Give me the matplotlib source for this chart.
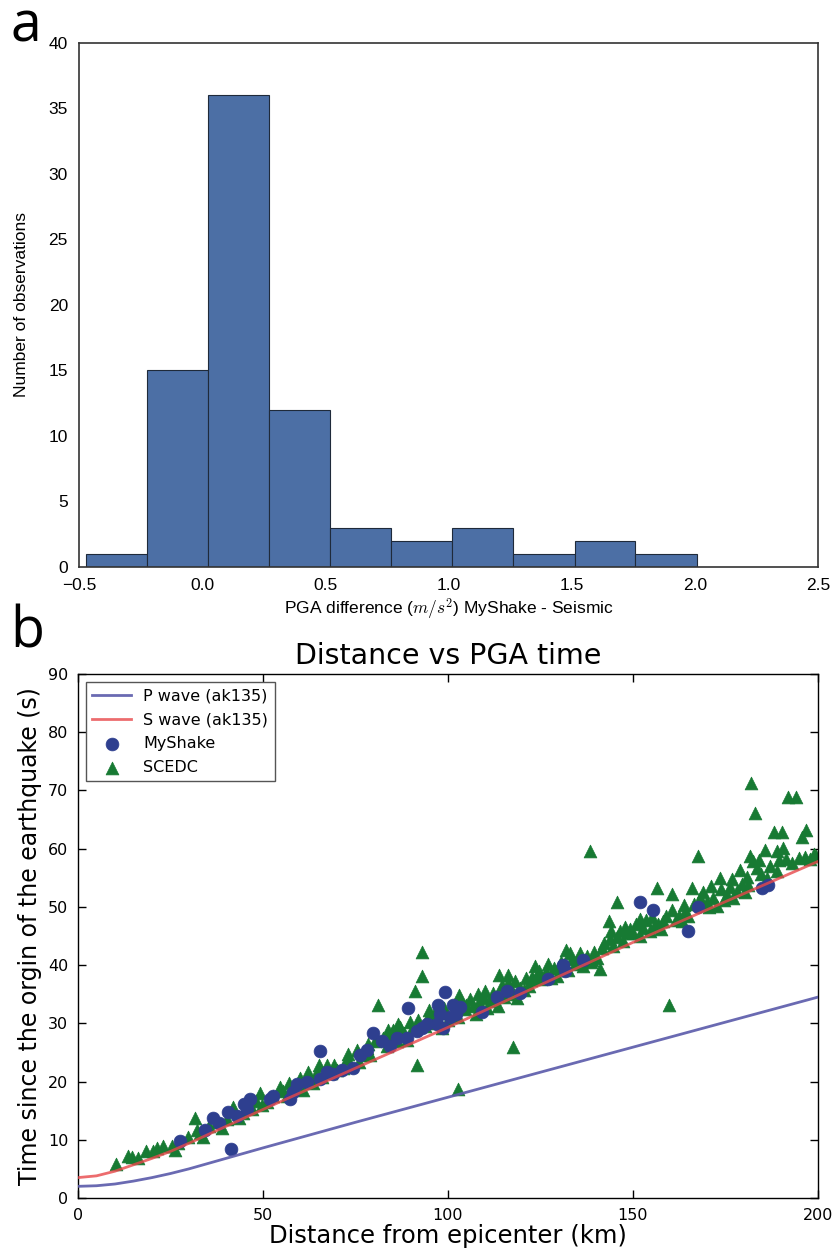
import numpy as np
import matplotlib
matplotlib.use("Agg")
import matplotlib.pyplot as plt

plt.rcParams['mathtext.fontset'] = 'cm'

# --- panel a : histogram of PGA difference
bin_edges = [-0.473, -0.224, 0.025, 0.272, 0.521, 0.767, 1.016, 1.263, 1.512, 1.759, 2.008]
counts = [1, 15, 36, 12, 3, 2, 3, 1, 2, 1]

# --- panel b : travel time curves (ak135)
curve_dist = [0, 5, 10, 15, 20, 25, 30, 40, 50, 75, 100, 125, 150, 175, 200]
p_time = [2.0, 2.1, 2.4, 2.9, 3.5, 4.2, 5.0, 6.8, 8.6, 13.0, 17.3, 21.6, 25.9, 30.2, 34.5]
s_time = [3.5, 3.8, 4.6, 5.7, 6.8, 8.0, 9.4, 12.3, 15.2, 22.3, 29.3, 36.6, 43.9, 50.9, 57.8]

# MyShake PGA times
myshake_dist = [27.6, 41.4, 34.3, 36.6, 38.0, 40.6, 42.9, 45.6, 46.5, 45.0, 51.9, 52.8,
                57.3, 58.2, 59.1, 61.8, 65.4, 65.4, 67.2, 69.0, 71.3, 74.4, 76.2, 78.0,
                79.8, 82.1, 84.3, 86.1, 89.3, 88.8, 91.5, 92.9, 94.2, 97.0, 97.4, 97.8,
                99.2, 98.7, 101.4, 102.3, 103.2, 109.1, 113.2, 115.9, 119.4, 127.1,
                131.2, 131.6, 136.6, 151.9, 155.5, 165.0, 167.7, 184.8, 186.6, 100.5]
myshake_time = [9.7, 8.4, 11.7, 13.7, 12.8, 14.7, 14.1, 15.3, 17.0, 16.2, 17.0, 17.6,
                17.0, 18.2, 19.6, 19.9, 25.3, 20.4, 21.6, 21.3, 22.0, 22.3, 24.6, 25.5,
                28.4, 27.0, 26.1, 27.5, 32.7, 27.5, 28.7, 29.2, 29.8, 29.8, 33.2, 31.6,
                35.4, 29.2, 33.2, 31.6, 32.8, 32.0, 34.6, 35.6, 35.2, 37.6,
                40.1, 38.9, 40.8, 50.9, 49.5, 45.8, 50.0, 53.2, 53.8, 31.0]

# SCEDC PGA times
scedc_dist = [10.4, 13.6, 14.5, 16.3, 18.4, 20.4, 21.3, 23.1, 25.3, 26.2, 27.0, 29.8,
              31.6, 32.1, 33.0, 33.9, 35.5, 37.5, 38.8, 40.2, 42.0, 43.4, 44.5, 45.8,
              47.0, 49.2, 49.6, 48.2,
              51.0, 52.6, 54.6, 55.5, 56.4, 58.0, 60.0, 60.9, 62.3, 63.5, 64.5, 66.0,
              67.2, 68.5, 70.0, 71.5, 72.6, 73.8, 75.3, 76.0,
              77.2, 78.3, 79.0, 80.3, 81.2, 82.5, 83.4, 84.6, 85.2, 86.2, 87.0, 88.0,
              88.8, 89.7, 90.4, 91.1, 91.5, 92.0, 92.9, 92.9, 93.8, 94.5, 95.5, 96.3,
              97.5, 98.5, 99.5, 100.0,
              101.5, 102.6, 102.8, 103.5, 104.5, 105.9, 106.8, 107.5, 108.5, 109.8,
              110.5, 111.5, 112.3, 113.5, 113.9, 114.6, 115.2, 116.2, 116.3, 117.5,
              117.7, 118.6, 119.5, 120.6, 121.8, 122.5, 122.6, 123.5, 124.0, 125.2,
              126.5, 127.8, 128.6, 129.5, 130.5, 131.9, 132.5, 133.4, 134.2, 135.7,
              136.5, 137.5, 138.4, 138.6, 139.5, 140.3, 141.1, 141.5, 142.3, 143.4,
              143.8, 144.6, 145.6, 145.6, 146.5, 147.3, 148.3, 149.2, 150.1,
              150.8, 151.8, 152.6, 153.5, 154.5, 155.2, 156.4, 156.8, 157.5, 158.2,
              159.8, 160.5, 160.6, 161.5, 162.4, 163.2, 164.0, 165.0, 165.9, 166.6,
              167.7, 168.1, 169.0, 170.0, 170.6, 171.5, 172.6, 173.5, 173.8, 174.5,
              175.5, 176.2, 177.0, 178.0, 178.9, 179.5, 180.3, 181.0, 181.6, 181.8,
              182.5, 183.0, 183.6, 184.5, 185.6, 186.2, 187.0, 188.1, 188.8, 189.5,
              190.2, 190.5, 191.4, 192.0, 193.0, 194.0, 194.8, 195.6, 196.5, 196.9,
              197.8, 198.8, 199.5,
              57.0, 61.5, 65.2, 69.3, 73.0, 78.0, 83.8, 86.5, 95.0, 96.8, 99.0,
              103.0, 105.0, 108.0, 110.0, 112.0, 115.8, 118.2, 121.0, 124.6, 127.0,
              130.0, 133.0, 136.0, 139.0, 144.0, 147.8, 152.0, 155.8, 159.0, 163.8,
              168.8, 171.0, 176.8, 180.8, 184.0, 189.0]
scedc_time = [5.8, 7.2, 7.1, 6.9, 8.1, 8.1, 8.5, 8.9, 8.9, 8.3, 9.5, 10.5,
              13.7, 11.6, 11.2, 10.4, 12.4, 13.1, 12.0, 13.6, 15.7, 13.7, 14.6, 16.0,
              15.2, 18.0, 15.9, 16.6,
              16.4, 17.5, 19.0, 18.3, 17.6, 18.8, 20.6, 18.5, 21.7, 19.8, 21.7, 20.7,
              22.9, 21.5, 21.9, 22.4, 23.8, 22.6, 25.5, 23.3,
              24.5, 26.4, 24.6, 27.0, 33.1, 27.4, 26.1, 28.2, 28.8, 27.0, 29.4, 28.3,
              27.2, 30.3, 29.0, 35.5, 22.9, 30.5, 38.2, 42.2, 29.5, 31.0, 30.0, 31.6,
              30.4, 29.2, 31.8, 30.5,
              32.0, 31.0, 18.8, 33.8, 32.5, 34.1, 33.0, 31.6, 33.6, 34.3,
              32.6, 33.8, 35.2, 33.0, 38.3, 36.5, 34.6, 38.3, 37.0, 35.0,
              26.0, 34.3, 36.0, 35.7, 36.4, 37.5, 37.9, 39.9, 38.2, 37.6,
              38.8, 37.8, 39.5, 38.2, 40.6, 42.6, 39.2, 41.0, 40.2, 42.0,
              39.8, 41.5, 59.6, 40.6, 42.3, 41.2, 39.4, 42.9, 43.8, 47.6,
              44.4, 43.2, 50.9, 44.9, 45.8, 44.2, 45.5, 46.2, 45.5,
              47.0, 45.0, 46.4, 47.8, 45.8, 48.2, 53.2, 47.0, 46.2, 47.6,
              33.2, 52.2, 49.5, 47.8, 48.5, 47.6, 49.2, 48.4, 53.2, 50.5,
              58.8, 51.5, 50.3, 50.8, 50.0, 51.6, 50.2, 54.9, 53.0, 51.2,
              52.0, 53.4, 51.6, 52.8, 56.3, 54.0, 52.6, 53.8, 58.7, 71.2,
              57.8, 66.2, 56.7, 55.6, 59.8, 55.0, 57.0, 62.9, 56.2, 58.0,
              62.8, 60.1, 58.3, 68.9, 57.5, 68.9, 58.4, 62.0, 58.6, 63.2,
              58.2, 59.0, 58.8,
              19.8, 20.0, 22.8, 22.8, 24.8, 25.8, 28.9, 29.8, 32.3, 30.8, 32.6,
              34.8, 33.2, 35.0, 35.6, 34.2, 35.8, 37.2, 37.8, 39.0, 40.2,
              39.5, 42.0, 41.2, 40.8, 45.8, 46.6, 48.0, 46.6, 48.5, 50.4,
              52.6, 53.6, 54.8, 55.2, 58.0, 59.6]

fig = plt.figure(figsize=(8.35, 12.56), dpi=100)

# ---------------- panel a
axa = fig.add_axes([0.0946, 0.5486, 0.8850, 0.4172])
hist_font = ['Liberation Sans', 'DejaVu Sans']
axa.bar(bin_edges[:-1], counts, width=np.diff(bin_edges), align='edge',
        color='#4C6FA5', edgecolor='#1f2a3a', linewidth=0.8)
axa.set_xlim(-0.5, 2.5)
axa.set_ylim(0, 40)
axa.set_xticks([-0.5, 0.0, 0.5, 1.0, 1.5, 2.0, 2.5])
axa.set_yticks(range(0, 45, 5))
axa.tick_params(length=0, pad=8, labelsize=12.5)
for lab in axa.get_xticklabels() + axa.get_yticklabels():
    lab.set_family(hist_font)
for sp in axa.spines.values():
    sp.set_color('#333333')
    sp.set_linewidth(1.2)
axa.set_xlabel(r'PGA difference ($m/s^2$) MyShake - Seismic', fontsize=12.5,
               family=hist_font, labelpad=3)
axa.set_ylabel('Number of observations', fontsize=12.5, family=hist_font, labelpad=14)

# ---------------- panel b
axb = fig.add_axes([0.0934, 0.0462, 0.8862, 0.4172])
axb.scatter(myshake_dist, myshake_time, s=85, marker='o', color='#2E3F8F',
            edgecolor='#2E3F8F', linewidth=0.5, zorder=3, label='MyShake')
axb.scatter(scedc_dist, scedc_time, s=85, marker='^', color='#177A33',
            edgecolor='#177A33', linewidth=0.5, zorder=2, label='SCEDC')
axb.plot(curve_dist, p_time, color='#5A5AAA', linewidth=2, alpha=0.9, zorder=4,
         label='P wave (ak135)')
axb.plot(curve_dist, s_time, color='#E8474A', linewidth=2, alpha=0.8, zorder=4,
         label='S wave (ak135)')
axb.set_xlim(0, 200)
axb.set_ylim(0, 90)
axb.set_xticks([0, 50, 100, 150, 200])
axb.set_yticks(range(0, 100, 10))
axb.tick_params(direction='in', top=True, right=True, length=6, width=1,
                labelsize=11.5, pad=7)
for sp in axb.spines.values():
    sp.set_linewidth(1)
axb.set_title('Distance vs PGA time', fontsize=20.5, pad=7)
axb.set_xlabel('Distance from epicenter (km)', fontsize=17.5, labelpad=1)
axb.set_ylabel('Time since the orgin of the earthquake (s)', fontsize=17, labelpad=4)

h, l = axb.get_legend_handles_labels()
order = [2, 3, 0, 1]
leg = axb.legend([h[i] for i in order], [l[i] for i in order], loc='upper left',
                 fontsize=11.5, fancybox=False, framealpha=1, edgecolor='#555555',
                 handlelength=2.4, borderaxespad=0.5, labelspacing=0.55)
leg.get_frame().set_linewidth(1)

# panel letters
fig.text(0.012, 1 - 42 / 1256, 'a', fontsize=40, family='Open Sans', va='baseline')
fig.text(0.012, 1 - 648 / 1256, 'b', fontsize=40, family='Open Sans', va='baseline')

fig.savefig('out.png', dpi=100)
